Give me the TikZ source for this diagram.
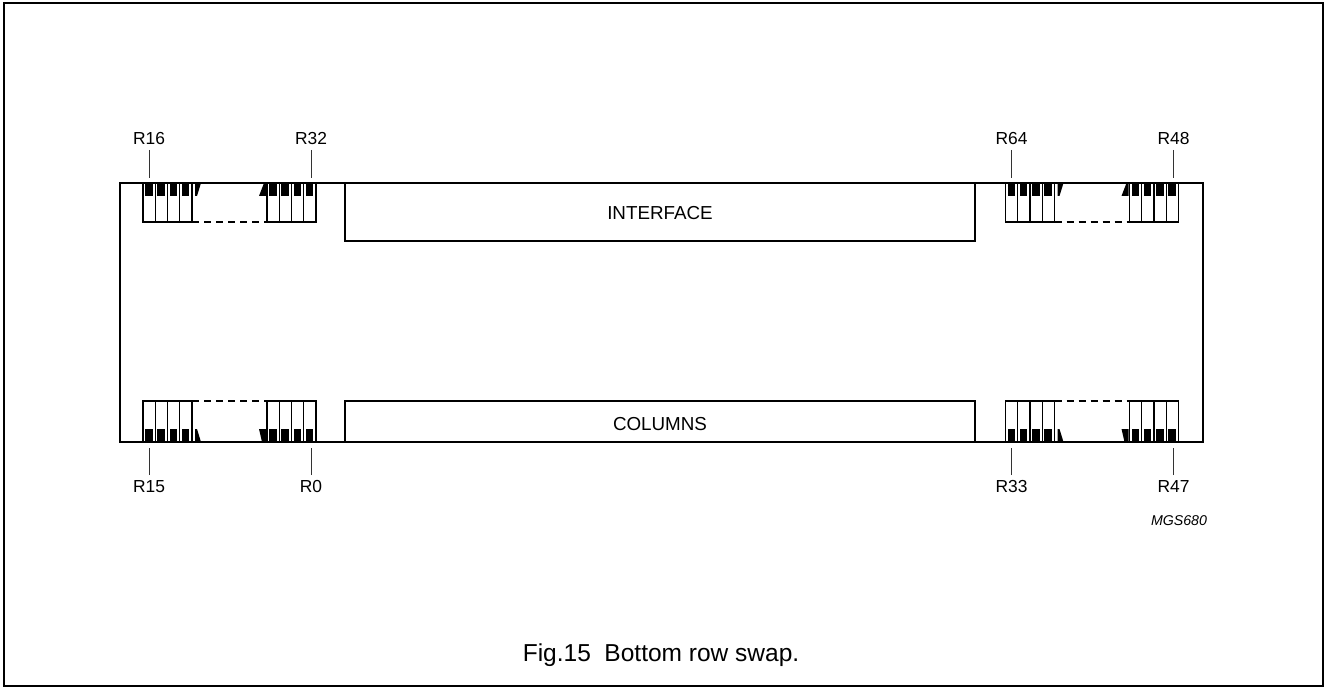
\documentclass[tikz,border=0pt]{standalone}
\usepackage{fontspec}
\setmainfont{Liberation Sans}
\usetikzlibrary{calc}
\tikzset{chip/.style={line width=1.4pt},
  cell/.style={line width=0.6pt},
  block/.style={line width=0.75pt},
  gap/.style={line width=0.6pt, dash pattern=on 3.5pt off 2.5pt},
  tick/.style={line width=0.5pt, black!80},
  pinlabel/.style={font=\fontsize{8.7}{10}\selectfont, inner sep=0pt},
  blocklabel/.style={font=\fontsize{9.4}{11}\selectfont, inner sep=0pt}}

\begin{document}
\begin{tikzpicture}[x=0.5pt,y=-0.5pt]
    \useasboundingbox (0,0) rectangle (1326,689);
    \draw[line width=1pt] (4,3) rectangle (1323,686);
    % pin rows, left and right
    \foreach \dx in {0,862.5} {
      \foreach \i in {0,...,3} {
        % top row
        \draw[cell] ({143+\dx+12.25*\i},183) rectangle ++(12.25,39);
        \fill ({145+\dx+12.25*\i},183) rectangle ++(7.5,13);
        \draw[cell] ({267+\dx+12.25*\i},183) rectangle ++(12.25,39);
        \fill ({269+\dx+12.25*\i},183) rectangle ++(7.5,13);
        % bottom row
        \draw[cell] ({143+\dx+12.25*\i},401) rectangle ++(12.25,41);
        \fill ({145+\dx+12.25*\i},429) rectangle ++(7.5,13);
        \draw[cell] ({267+\dx+12.25*\i},401) rectangle ++(12.25,41);
        \fill ({269+\dx+12.25*\i},429) rectangle ++(7.5,13);
      }
      \fill (195+\dx,183) -- (201+\dx,183) -- (197+\dx,196) -- (195+\dx,196) -- cycle;
      \fill (264+\dx,183) -- (266+\dx,183) -- (266+\dx,196) -- (259+\dx,196) -- cycle;
      \fill (195+\dx,429) -- (197+\dx,429) -- (201+\dx,442) -- (195+\dx,442) -- cycle;
      \fill (259+\dx,429) -- (266+\dx,429) -- (266+\dx,442) -- (262+\dx,442) -- cycle;
      \draw[gap] (192+\dx,222) -- (267+\dx,222);
      \draw[gap] (192+\dx,401) -- (267+\dx,401);
    }
    % chip outline and blocks
    \draw[chip] (120,183) rectangle (1203,442);
    \draw[block] (345,183) rectangle (975,241);
    \draw[block] (345,401) rectangle (975,442);
    \node[blocklabel] (iface) at (660,213.5) {INTERFACE};
    \node[blocklabel] (cols) at (660,424) {COLUMNS};
    % pin labels
    \foreach \nm/\x in {16/149,32/311,64/1011.5,48/1173.5} {
      \coordinate (p\nm) at (\x,178);
      \node[pinlabel, anchor=south] (r\nm) at (\x,145) {R\nm};
      \draw[tick, shorten <=2.5pt] (r\nm.south) -- (p\nm);
    }
    \foreach \nm/\x in {15/149,0/311,33/1011.5,47/1173.5} {
      \coordinate (p\nm) at (\x,448);
      \node[pinlabel, anchor=north] (r\nm) at (\x,480) {R\nm};
      \draw[tick, shorten <=2.5pt] (r\nm.north) -- (p\nm);
    }
    \node[font=\itshape\fontsize{7.1}{9}\selectfont] (code) at (1179,520.5) {MGS680};
    \node[font=\fontsize{12.25}{14}\selectfont, inner sep=0pt, anchor=north] (caption) at (661,643) {Fig.15\ \ Bottom row swap.};
\end{tikzpicture}
\end{document}
